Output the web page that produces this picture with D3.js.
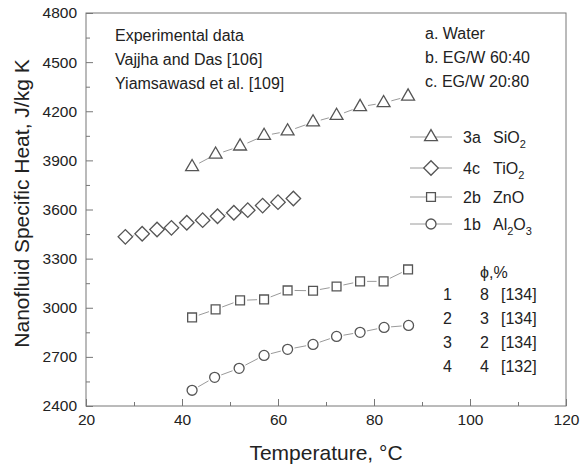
<!DOCTYPE html>
<html>
<head>
<meta charset="utf-8">
<script src="https://cdn.jsdelivr.net/npm/d3@7"></script>
<style>
  html, body { margin: 0; padding: 0; background: #fff; }
  svg text { font-family: "Liberation Sans", Arial, sans-serif; fill: #222; }
</style>
</head>
<body>
<svg id="chart" width="583" height="470"></svg>
<script>
// Specific heat of nanofluids vs temperature
const sio2Temp = [42.1, 47.0, 52.1, 57.1, 62.0, 67.3, 72.2, 77.1, 82.0, 87.1];
const sio2Cp   = [3860, 3936, 3986, 4051, 4078, 4133, 4173, 4227, 4251, 4291];

const tio2Temp = [28.2, 31.7, 34.8, 37.8, 41.0, 44.3, 47.4, 50.8, 53.7, 56.8, 60.0, 63.2];
const tio2Cp   = [3433, 3452, 3478, 3488, 3519, 3535, 3559, 3580, 3596, 3624, 3645, 3667];

const znoTemp = [42.1, 47.0, 52.1, 57.1, 62.0, 67.3, 72.2, 77.1, 82.0, 87.1];
const znoCp   = [2941, 2990, 3045, 3051, 3106, 3104, 3130, 3161, 3161, 3234];

const al2o3Temp = [42.1, 46.8, 51.9, 57.1, 62.0, 67.3, 72.2, 77.1, 82.1, 87.2];
const al2o3Cp   = [2496, 2575, 2630, 2709, 2746, 2776, 2825, 2850, 2880, 2892];

const xTicks = [20, 40, 60, 80, 100, 120];
const yTicks = [2400, 2700, 3000, 3300, 3600, 3900, 4200, 4500, 4800];

const svg = d3.select("#chart");
const plotLeft = 86, plotRight = 566, plotTop = 13, plotBottom = 406;

const x = d3.scaleLinear().domain([20, 120]).range([plotLeft, plotRight]);
const y = d3.scaleLinear().domain([2400, 4800]).range([plotBottom, plotTop]);

const axisColor = "#777";
const markColor = "#555";
const lineColor = "#9a9a9a";

// frame
svg.append("rect")
  .attr("x", plotLeft).attr("y", plotTop)
  .attr("width", plotRight - plotLeft).attr("height", plotBottom - plotTop)
  .attr("fill", "none").attr("stroke", axisColor).attr("stroke-width", 1);

// x axis: inward ticks
const xAxis = d3.axisBottom(x).tickValues(xTicks).tickSize(-7).tickPadding(10).tickFormat(d3.format("d"));
const gx = svg.append("g").attr("transform", `translate(0,${plotBottom})`).call(xAxis);
gx.select(".domain").remove();
gx.selectAll(".tick line").attr("stroke", axisColor);
gx.selectAll(".tick text").attr("font-size", 15.5).attr("fill", "#222").attr("dy", "0.55em");
const gxm = svg.append("g").attr("transform", `translate(0,${plotBottom})`)
  .call(d3.axisBottom(x).tickValues(d3.range(30, 120, 20)).tickSize(-4).tickFormat(""));
gxm.select(".domain").remove();
gxm.selectAll(".tick line").attr("stroke", axisColor);

// y axis: inward ticks
const yAxis = d3.axisLeft(y).tickValues(yTicks).tickSize(-7).tickPadding(9).tickFormat(d3.format("d"));
const gy = svg.append("g").attr("transform", `translate(${plotLeft},0)`).call(yAxis);
gy.select(".domain").remove();
gy.selectAll(".tick line").attr("stroke", axisColor);
gy.selectAll(".tick text").attr("font-size", 15.5).attr("fill", "#222");
const gym = svg.append("g").attr("transform", `translate(${plotLeft},0)`)
  .call(d3.axisLeft(y).tickValues(d3.range(2550, 4800, 300)).tickSize(-4).tickFormat(""));
gym.select(".domain").remove();
gym.selectAll(".tick line").attr("stroke", axisColor);

// axis titles
svg.append("text")
  .attr("x", (plotLeft + plotRight) / 2).attr("y", 460)
  .attr("text-anchor", "middle").attr("font-size", 21)
  .text("Temperature, °C");
svg.append("text")
  .attr("transform", `translate(29,${(plotTop + plotBottom) / 2 - 6}) rotate(-90)`)
  .attr("text-anchor", "middle").attr("font-size", 21)
  .text("Nanofluid Specific Heat, J/kg K");

// marker shapes
const shapes = {
  triangle: d3.symbol().type(d3.symbolTriangle).size(72)(),
  diamond: d3.symbol().type(d3.symbolSquare).size(105)(),
  square: d3.symbol().type(d3.symbolSquare).size(78)(),
  circle: d3.symbol().type(d3.symbolCircle).size(78)()
};
const rotation = { triangle: 0, diamond: 45, square: 0, circle: 0 };

function drawSeries(temps, values, shape, gap) {
  const pts = temps.map((t, i) => [x(t), y(values[i])]);
  const g = svg.append("g");
  // connecting segments, broken around each marker
  for (let i = 0; i < pts.length - 1; i++) {
    const [x0, y0] = pts[i], [x1, y1] = pts[i + 1];
    const len = Math.hypot(x1 - x0, y1 - y0);
    if (len <= 2 * gap) continue;
    const ux = (x1 - x0) / len, uy = (y1 - y0) / len;
    g.append("line")
      .attr("x1", x0 + ux * gap).attr("y1", y0 + uy * gap)
      .attr("x2", x1 - ux * gap).attr("y2", y1 - uy * gap)
      .attr("stroke", lineColor).attr("stroke-width", 1);
  }
  g.selectAll("path.m").data(pts).join("path")
    .attr("class", "m")
    .attr("d", shapes[shape])
    .attr("transform", d => `translate(${d[0]},${d[1]}) rotate(${rotation[shape]})`)
    .attr("fill", "#fff").attr("stroke", markColor).attr("stroke-width", 1.3);
}

drawSeries(sio2Temp, sio2Cp, "triangle", 8);
drawSeries(tio2Temp, tio2Cp, "diamond", 8);
drawSeries(znoTemp, znoCp, "square", 7);
drawSeries(al2o3Temp, al2o3Cp, "circle", 7);

// legend
const legendRows = [
  { shape: "triangle", code: "3a", name: ["SiO", "2"], y: 137 },
  { shape: "diamond", code: "4c", name: ["TiO", "2"], y: 168 },
  { shape: "square", code: "2b", name: ["ZnO"], y: 197 },
  { shape: "circle", code: "1b", name: ["Al", "2", "O", "3"], y: 224 }
];
legendRows.forEach(r => {
  svg.append("line").attr("x1", 410).attr("x2", 452).attr("y1", r.y).attr("y2", r.y)
    .attr("stroke", lineColor).attr("stroke-width", 1);
  svg.append("path").attr("d", shapes[r.shape])
    .attr("transform", `translate(431,${r.y}) rotate(${rotation[r.shape]})`)
    .attr("fill", "#fff").attr("stroke", markColor).attr("stroke-width", 1.3);
  svg.append("text").attr("x", 463).attr("y", r.y + 6).attr("font-size", 16).text(r.code);
  const t = svg.append("text").attr("x", 493).attr("y", r.y + 6).attr("font-size", 16);
  r.name.forEach((part, i) => {
    const sub = i % 2 === 1;
    t.append("tspan").attr("font-size", sub ? 11 : 16)
      .attr("dy", sub ? 5 : (i > 0 ? -5 : 0)).text(part);
  });
});

// fluid key and sources
const fluidKey = ["a. Water", "b. EG/W 60:40", "c. EG/W 20:80"];
const sources = ["Experimental data", "Vajjha and Das [106]", "Yiamsawasd et al. [109]"];
sources.forEach((s, i) => {
  svg.append("text").attr("x", 115).attr("y", 41 + i * 24).attr("font-size", 16).text(s);
});
fluidKey.forEach((s, i) => {
  svg.append("text").attr("x", 425).attr("y", 39 + i * 24).attr("font-size", 16).text(s);
});

// concentration table
const tableIds = ["1", "2", "3", "4"];
const tablePhi = ["8", "3", "2", "4"];
const tableRefs = ["[134]", "[134]", "[134]", "[132]"];
svg.append("text").attr("x", 480).attr("y", 278).attr("font-size", 16).text("ϕ,%");
tableIds.forEach((id, i) => {
  const yy = 300 + i * 24;
  svg.append("text").attr("x", 443).attr("y", yy).attr("font-size", 16).text(id);
  svg.append("text").attr("x", 480).attr("y", yy).attr("font-size", 16).text(tablePhi[i]);
  svg.append("text").attr("x", 501).attr("y", yy).attr("font-size", 16).text(tableRefs[i]);
});
</script>
</body>
</html>
